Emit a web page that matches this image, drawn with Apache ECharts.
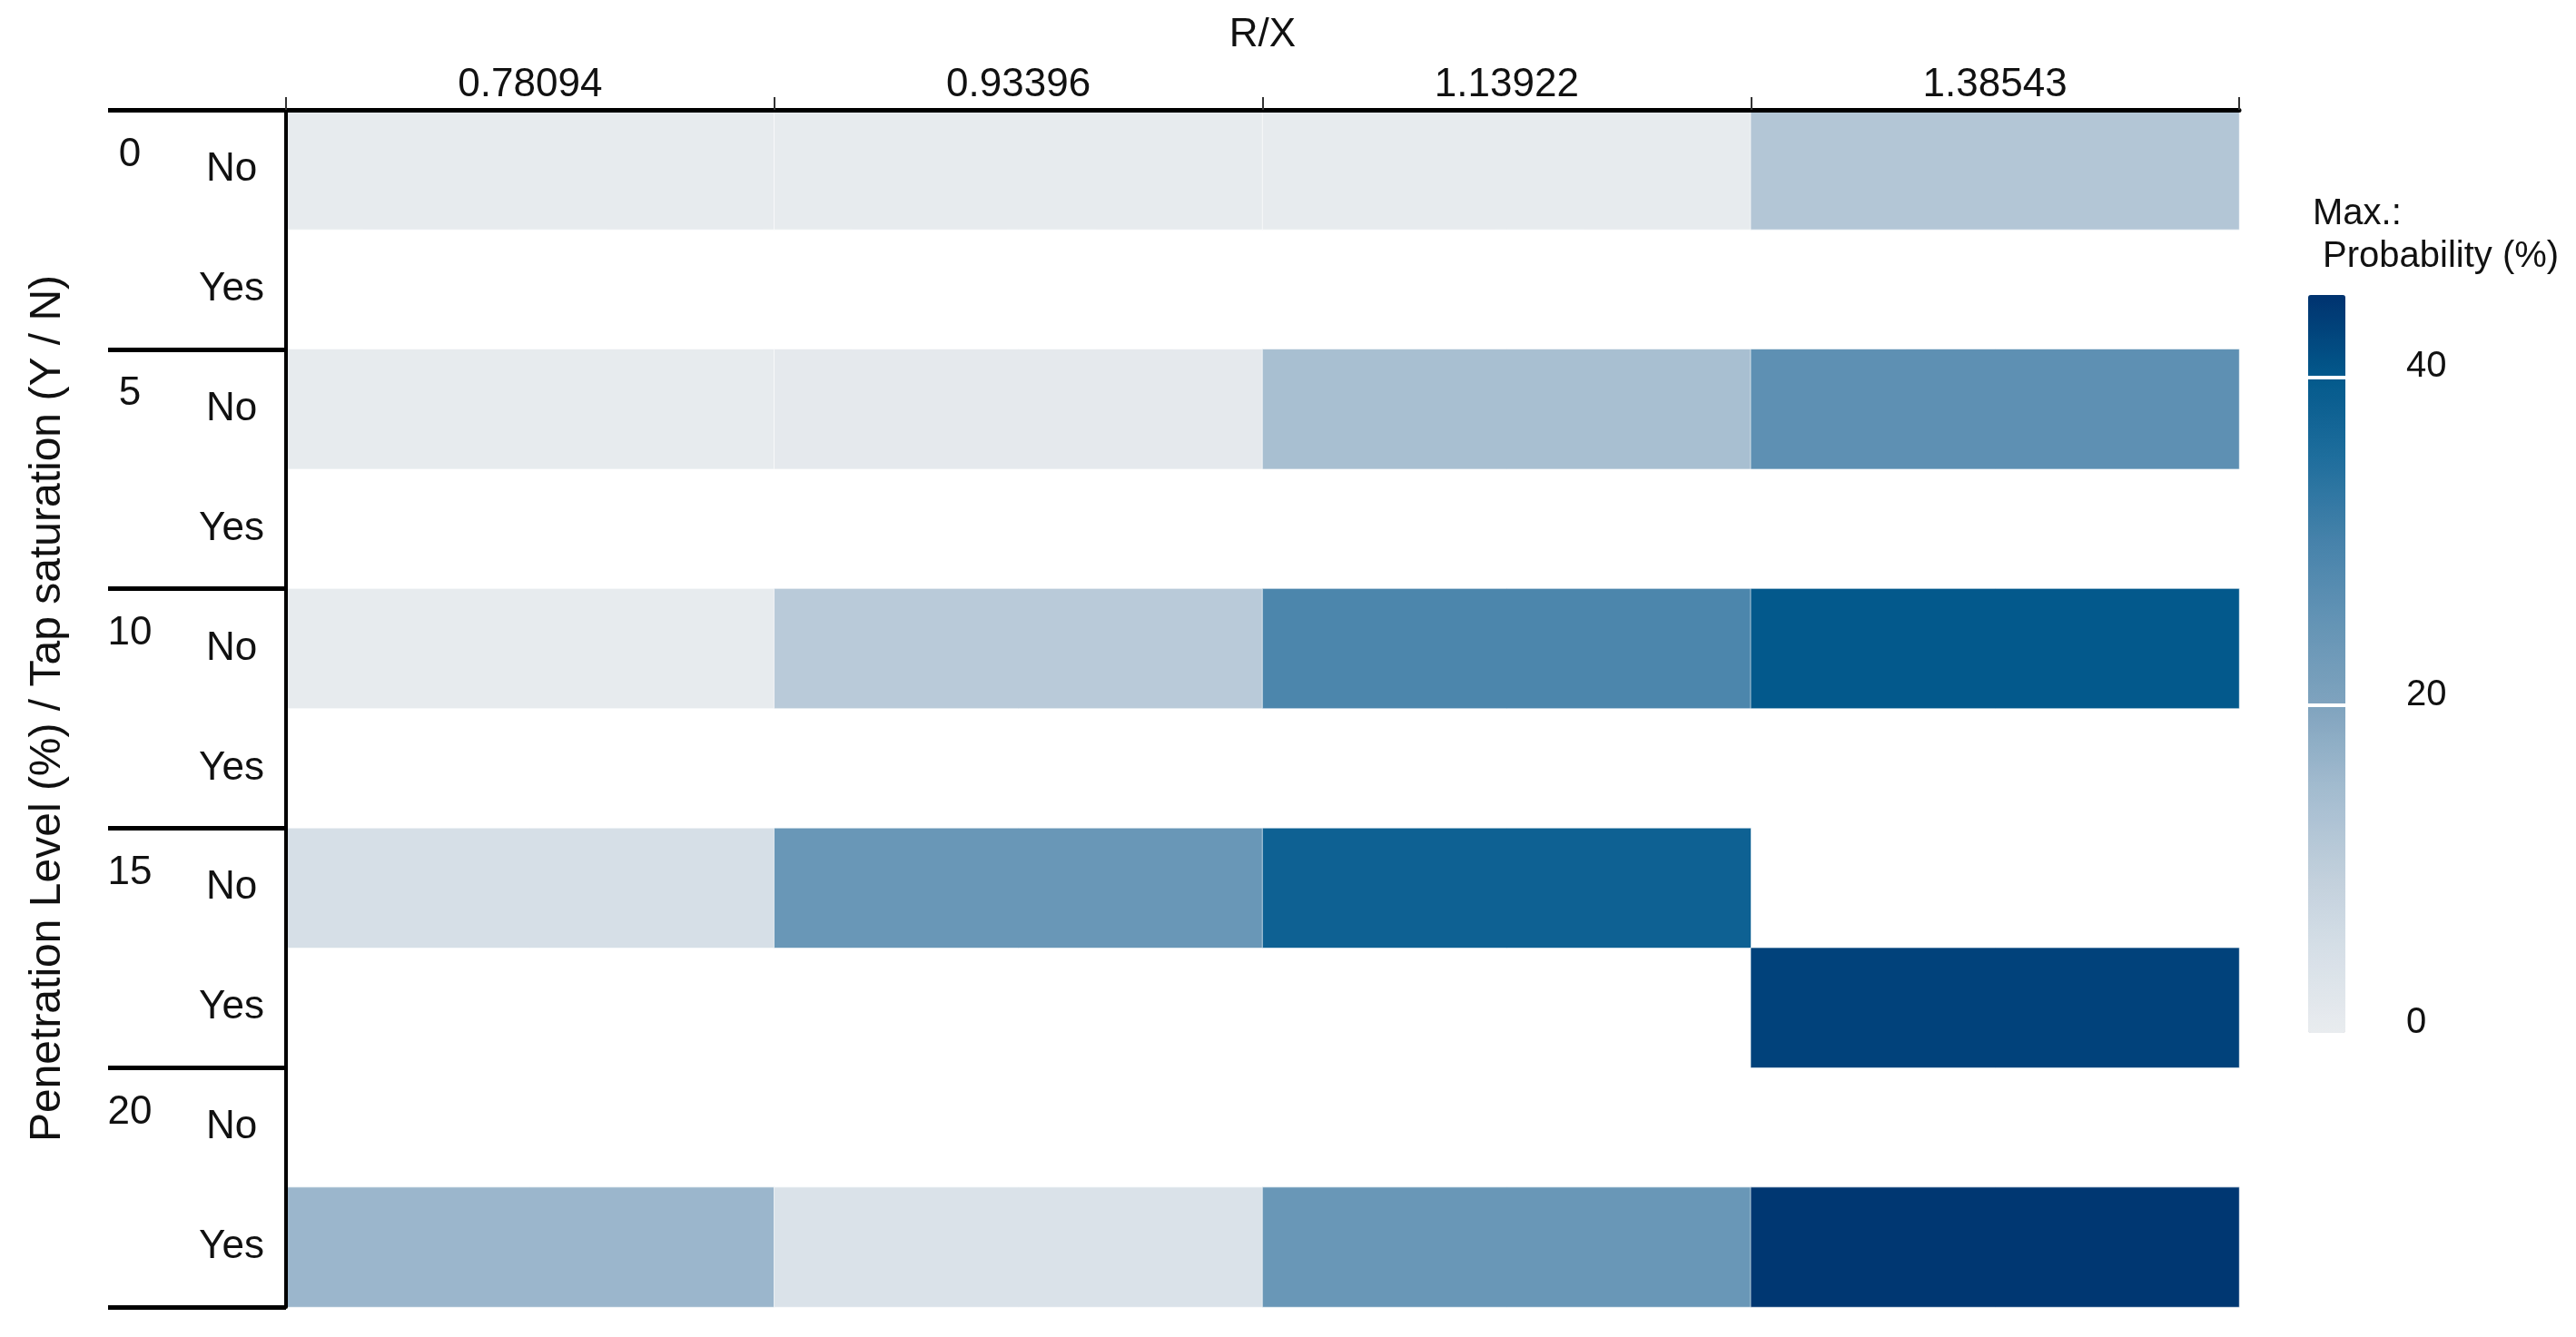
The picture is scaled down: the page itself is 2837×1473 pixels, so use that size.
<!DOCTYPE html>
<html>
<head>
<meta charset="utf-8">
<title>Max. probability heatmap</title>
<script src="https://cdn.jsdelivr.net/npm/echarts@6/dist/echarts.min.js"></script>
<style>
  html, body { margin: 0; padding: 0; background: #fff; }
  #chart { width: 2837px; height: 1473px; }
</style>
</head>
<body>
<div id="chart"></div>
<script>
// column categories (R/X)
var rxLabels = ['0.78094', '0.93396', '1.13922', '1.38543'];
// row groups
var penLevels = ['0', '5', '10', '15', '20'];
var tapLabels = ['No', 'Yes'];
// max probability (%) per R/X column, null = no cell
var pen0No   = [0.5, 0.5, 0.5, 12];
var pen0Yes  = [null, null, null, null];
var pen5No   = [0.5, 1, 14, 26];
var pen5Yes  = [null, null, null, null];
var pen10No  = [0.5, 11, 29, 40];
var pen10Yes = [null, null, null, null];
var pen15No  = [5, 24, 38, null];
var pen15Yes = [null, null, null, 43];
var pen20No  = [null, null, null, null];
var pen20Yes = [16, 4, 24, 44.5];
// colour bar
var probMin = 0;
var probMax = 45;
var probColors = ['#e9ecef', '#d6dfe7', '#bfcedb', '#a2bbcf', '#7fa3be',
                  '#6494b5', '#4682aa', '#1f6e9d', '#03598c', '#00336f'];

var FONT = '"Liberation Sans", Arial, sans-serif';

var rows = [pen0No, pen0Yes, pen5No, pen5Yes, pen10No, pen10Yes,
            pen15No, pen15Yes, pen20No, pen20Yes];
var rowLabels = [];
penLevels.forEach(function () {
    tapLabels.forEach(function (t) { rowLabels.push(t); });
});

var cells = [];
rows.forEach(function (row, r) {
    row.forEach(function (v, c) {
        if (v !== null) {
            cells.push([c, r, v]);
        }
    });
});

var myChart = echarts.init(document.getElementById('chart'));
var option = {
    backgroundColor: '#ffffff',
    animation: false,
    textStyle: { fontFamily: FONT, color: '#000' },
    title: {
        text: 'Max.:\n Probability (%)',
        left: 2547,
        top: 212,
        padding: 0,
        textStyle: { fontFamily: FONT, fontSize: 40, fontWeight: 'normal', color: '#111', lineHeight: 47 }
    },
    grid: [
        { left: 315, top: 121, width: 2151, height: 1319 },
        { left: 2542, top: 325, width: 41, height: 813 }
    ],
    xAxis: [
        {
            type: 'category',
            gridIndex: 0,
            position: 'top',
            data: rxLabels,
            z: 5,
            name: 'R/X',
            nameLocation: 'middle',
            nameGap: 60,
            nameTextStyle: { fontSize: 44, color: '#111' },
            axisLine: { show: true, lineStyle: { color: '#000', width: 5 } },
            axisTick: { show: true, length: 14, lineStyle: { color: '#333', width: 2 } },
            axisLabel: { fontSize: 44, color: '#111', margin: 5 },
            splitLine: { show: false }
        },
        {
            type: 'value',
            gridIndex: 1,
            min: 0,
            max: 1,
            show: false
        }
    ],
    yAxis: [
        {
            type: 'category',
            gridIndex: 0,
            inverse: true,
            data: rowLabels,
            z: 5,
            axisLine: { show: true, lineStyle: { color: '#000', width: 4 } },
            axisTick: { show: false },
            axisLabel: { fontSize: 44, color: '#111', margin: 60, align: 'center' },
            splitLine: { show: false }
        },
        {
            type: 'category',
            gridIndex: 0,
            inverse: true,
            position: 'left',
            data: penLevels,
            z: 5,
            name: 'Penetration Level (%) / Tap saturation (Y / N)',
            nameLocation: 'middle',
            nameRotate: 90,
            nameGap: 238,
            nameTextStyle: { fontSize: 48, color: '#111' },
            axisLine: { show: false },
            axisTick: { show: true, length: 196, lineStyle: { color: '#000', width: 5 } },
            axisLabel: {
                fontSize: 44, color: '#111', margin: 172, align: 'center', lineHeight: 55,
                // push the level label towards the top of its group
                formatter: function (v) { return v + '\n \n \n '; }
            },
            splitLine: { show: false }
        },
        {
            type: 'value',
            gridIndex: 1,
            position: 'right',
            min: probMin,
            max: probMax,
            interval: 20,
            z: 10,
            axisLine: { show: false },
            axisTick: { show: false },
            axisLabel: {
                fontSize: 40, color: '#111', margin: 67, showMaxLabel: false, lineHeight: 22,
                formatter: function (v) { return v + '\n '; }
            },
            splitLine: { show: true, showMinLine: false, showMaxLine: false, lineStyle: { color: '#fff', width: 4 } }
        }
    ],
    visualMap: {
        type: 'continuous',
        min: probMin,
        max: probMax,
        dimension: 2,
        seriesIndex: 0,
        orient: 'vertical',
        left: 2542,
        top: 325,
        itemWidth: 41,
        itemHeight: 813,
        padding: 0,
        calculable: false,
        hoverLink: false,
        inRange: { color: probColors }
    },
    series: [{
        type: 'heatmap',
        xAxisIndex: 0,
        yAxisIndex: 0,
        data: cells,
        itemStyle: { borderColor: 'rgba(255,255,255,0.6)', borderWidth: 1 },
        emphasis: { disabled: true }
    }]
};
myChart.setOption(option);
</script>
</body>
</html>
